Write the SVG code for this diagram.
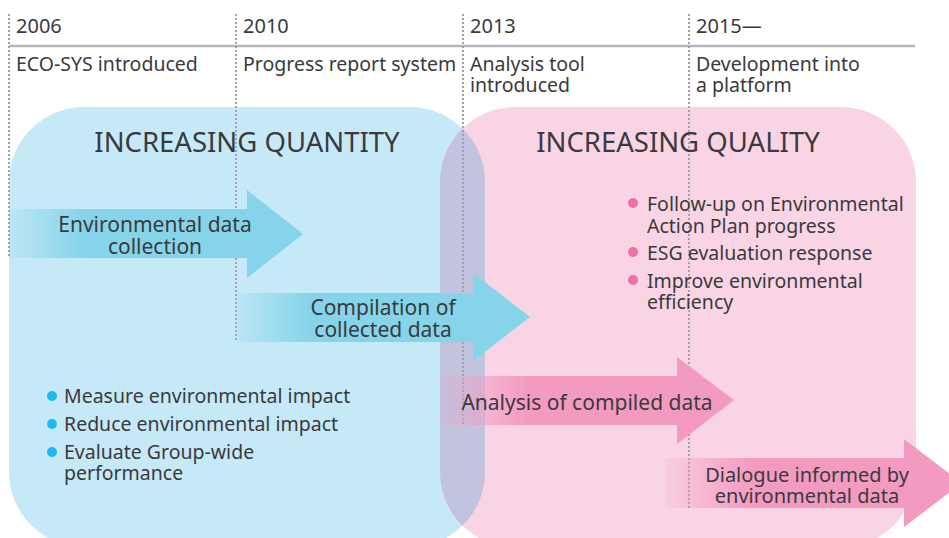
<svg xmlns="http://www.w3.org/2000/svg" width="949" height="538" viewBox="0 0 949 538">
<style>
text{font-family:"Noto Sans","Open Sans","Liberation Sans",sans-serif;fill:#3a3a3c;font-size:19.5px}
.yr{font-size:20px}
.hd{font-size:27.5px;text-anchor:middle}
.ar{font-size:21px;text-anchor:middle}
.ar2{font-size:20px;text-anchor:middle}
.dot{stroke:#a3a3ab;stroke-width:2;stroke-dasharray:2 2;fill:none}
.bb{fill:#1cb9ec}
.pb{fill:#ee70a8}
</style>
<defs>
<linearGradient id="gb" x1="0" y1="0" x2="1" y2="0">
<stop offset="0" stop-color="#86d4ea" stop-opacity="0.15"/>
<stop offset="0.25" stop-color="#86d4ea" stop-opacity="1"/>
<stop offset="1" stop-color="#86d4ea"/>
</linearGradient>
<linearGradient id="gp" x1="0" y1="0" x2="1" y2="0">
<stop offset="0" stop-color="#f39ac1" stop-opacity="0.1"/>
<stop offset="0.3" stop-color="#f39ac1" stop-opacity="1"/>
<stop offset="1" stop-color="#f39ac1"/>
</linearGradient>
<clipPath id="cb"><rect x="9" y="107" width="476" height="440" rx="75"/></clipPath>
</defs>
<g id="panels">
<rect id="blue-panel" x="9" y="107" width="476" height="440" rx="75" fill="#c6e9f8"/>
<rect id="pink-panel" x="440" y="107" width="476" height="440" rx="75" fill="#f9d4e5"/>
<rect x="440" y="107" width="476" height="440" rx="75" fill="#c1c3df" clip-path="url(#cb)"/>
</g>
<g id="timeline">
<line x1="9" y1="46" x2="915" y2="46" stroke="#b5b5bd" stroke-width="2.5"/>
<line class="dot" x1="9" y1="14" x2="9" y2="258"/>
<line class="dot" x1="236" y1="14" x2="236" y2="341"/>
<line class="dot" x1="463" y1="14" x2="463" y2="424"/>
<line class="dot" x1="689" y1="14" x2="689" y2="509"/>
<text class="yr" x="16" y="33">2006</text>
<text class="yr" x="243" y="33">2010</text>
<text class="yr" x="470" y="33">2013</text>
<text class="yr" x="696" y="33">2015—</text>
<text x="16" y="71">ECO-SYS introduced</text>
<text x="243" y="71">Progress report system</text>
<text x="470" y="71">Analysis tool</text>
<text x="470" y="92">introduced</text>
<text x="696" y="71">Development into</text>
<text x="696" y="92">a platform</text>
</g>
<g id="headings">
<text class="hd" x="247" y="152">INCREASING QUANTITY</text>
<text class="hd" x="678" y="152">INCREASING QUALITY</text>
</g>
<g id="arrows">
<g id="arrow-collection">
<path d="M10 209H247V190L303 234L247 278V258H10Z" fill="url(#gb)"/>
<text class="ar" x="155" y="232">Environmental data</text>
<text class="ar" x="155" y="254">collection</text>
</g>
<g id="arrow-compilation">
<path d="M236 293H473V273L530 317L473 361V342H236Z" fill="url(#gb)"/>
<text class="ar" x="383" y="315">Compilation of</text>
<text class="ar" x="383" y="337">collected data</text>
</g>
<g id="arrow-analysis">
<path d="M440 376H677V357L734 400L677 444V425H440Z" fill="url(#gp)"/>
<text class="ar" x="587" y="410">Analysis of compiled data</text>
</g>
<g id="arrow-dialogue">
<path d="M665 458H904V439L962 483L904 527V508H665Z" fill="url(#gp)"/>
<text class="ar2" x="807" y="482">Dialogue informed by</text>
<text class="ar2" x="807" y="503">environmental data</text>
</g>
</g>
<g id="quantity-bullets">
<circle class="bb" cx="52" cy="396" r="5"/>
<text x="64" y="403">Measure environmental impact</text>
<circle class="bb" cx="52" cy="424" r="5"/>
<text x="64" y="431">Reduce environmental impact</text>
<circle class="bb" cx="52" cy="452" r="5"/>
<text x="64" y="459">Evaluate Group-wide</text>
<text x="64" y="480">performance</text>
</g>
<g id="quality-bullets">
<circle class="pb" cx="633" cy="203" r="5"/>
<text x="647" y="211">Follow-up on Environmental</text>
<text x="647" y="233">Action Plan progress</text>
<circle class="pb" cx="633" cy="252" r="5"/>
<text x="647" y="260">ESG evaluation response</text>
<circle class="pb" cx="633" cy="280" r="5"/>
<text x="647" y="288">Improve environmental</text>
<text x="647" y="309">efficiency</text>
</g>
</svg>
